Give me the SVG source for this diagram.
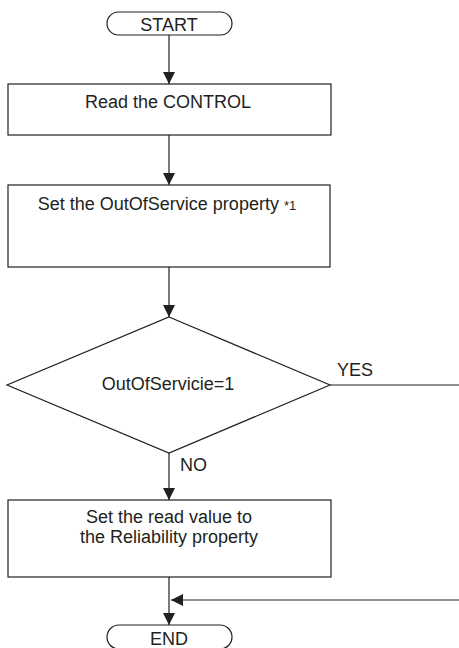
<svg xmlns="http://www.w3.org/2000/svg" width="459" height="648" viewBox="0 0 459 648">
<style>
.s{fill:#fff;stroke:#231f20;stroke-width:1.2}
.l{fill:none;stroke:#231f20;stroke-width:1.2}
text{font-family:"Liberation Sans",Arial,sans-serif;font-size:18px;fill:#231f20}
</style>
<defs>
<marker id="a" viewBox="0 0 10 10" refX="10" refY="5" markerWidth="12" markerHeight="12" markerUnits="userSpaceOnUse" orient="auto">
<path d="M0,0 L10,5 L0,10 z" fill="#231f20"/>
</marker>
</defs>
<g id="start"><rect class="s" x="107" y="12" width="125" height="23" rx="11.5"/><text x="169" y="31" text-anchor="middle">START</text></g>
<g id="read"><rect class="s" x="8" y="84" width="323" height="51"/><text x="168" y="108" text-anchor="middle">Read the CONTROL</text></g>
<g id="set"><rect class="s" x="8" y="185" width="322" height="82"/><text x="167" y="210" text-anchor="middle">Set the OutOfService property <tspan font-size="13">*1</tspan></text></g>
<g id="decision"><polygon class="s" points="169,317 330,385 169,453 7,385"/><text x="168" y="390" text-anchor="middle">OutOfServicie=1</text></g>
<g id="setread"><rect class="s" x="8" y="500" width="323" height="77"/><text x="169" y="523" text-anchor="middle">Set the read value to</text><text x="169" y="543" text-anchor="middle">the Reliability property</text></g>
<g id="end"><rect class="s" x="107" y="625" width="125" height="24" rx="12"/><text x="169" y="645" text-anchor="middle">END</text></g>
<g id="connectors">
<line class="l" x1="169" y1="35" x2="169" y2="84" marker-end="url(#a)"/>
<line class="l" x1="169" y1="135" x2="169" y2="185" marker-end="url(#a)"/>
<line class="l" x1="169" y1="267" x2="169" y2="317" marker-end="url(#a)"/>
<line class="l" x1="169" y1="453" x2="169" y2="500" marker-end="url(#a)"/>
<line class="l" x1="169" y1="577" x2="169" y2="625" marker-end="url(#a)"/>
<line class="l" x1="330" y1="385" x2="459" y2="385"/>
<line class="l" x1="459" y1="600" x2="171" y2="600" marker-end="url(#a)"/>
<text x="337" y="376">YES</text>
<text x="180" y="471">NO</text>
</g>
</svg>
